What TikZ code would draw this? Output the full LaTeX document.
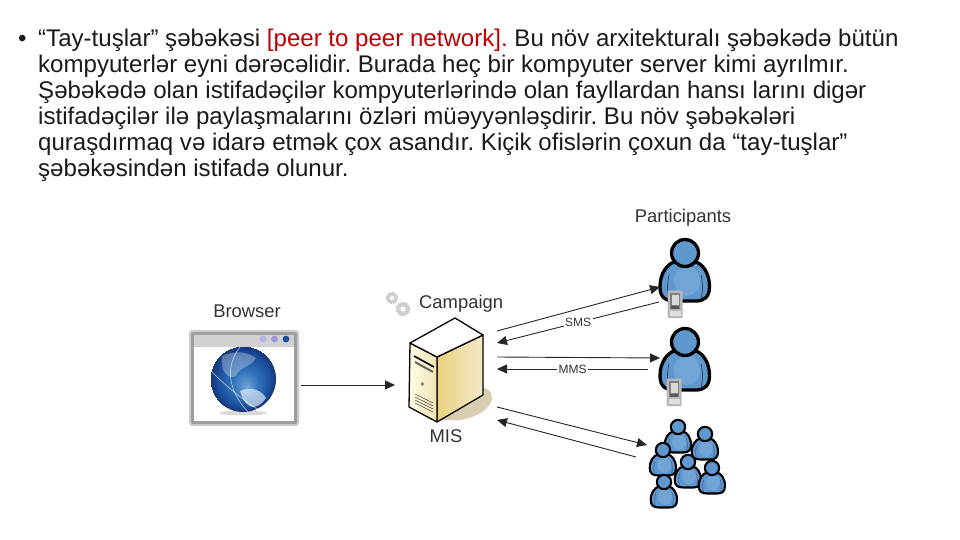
\documentclass[tikz,border=0pt]{standalone}
\usepackage{fontspec}
\setmainfont{Liberation Sans}
\usetikzlibrary{arrows.meta,shapes.geometric}
\definecolor{txt}{HTML}{1A1A1A}
\definecolor{redtxt}{HTML}{C00000}
\definecolor{lbl}{HTML}{333333}
\definecolor{bluep}{HTML}{5F97CF}
\definecolor{bluepl}{HTML}{8DB6DF}
\definecolor{shadowb}{HTML}{D8CEB2}
\definecolor{gl1}{HTML}{6FA6D8}
\definecolor{gl2}{HTML}{2F72B8}
\definecolor{gl3}{HTML}{1A4F9C}
\definecolor{gl4}{HTML}{12357A}
\pgfdeclareradialshading{globeshade}{\pgfpoint{3pt}{-6pt}}{%
  color(0pt)=(gl1);color(10pt)=(gl2);color(20pt)=(gl3);color(25pt)=(gl4)}
\tikzset{
  line/.style={txt,font=\fontsize{24.07}{26}\selectfont\frenchspacing,anchor=base west,inner sep=0pt},
  lab/.style={lbl,font=\fontsize{18.4}{20}\selectfont,inner sep=0pt},
  small/.style={lbl,font=\fontsize{12}{14}\selectfont,inner sep=1.5pt,fill=white},
  conn/.style={black!85,line width=0.9pt,-{Triangle[length=10pt,width=9pt]}},
  gear/.style={draw=black!22,dash pattern=on 1.6pt off 1.2pt,line width=1.6pt,fill=black!18}
}
% person drawn at head centre #1,#2 with scale #3
\newcommand{\drawperson}[3]{%
  \begin{scope}[shift={(#1,#2)},scale=#3]
    \draw[fill=bluep,draw=black,line width=(#3*2.5+.8)*1pt,line join=round]
      (-9,8) .. controls (-18,11) and (-25,20) .. (-25,34)
      .. controls (-25,44) and (-20,48) .. (-10,48)
      -- (11,48)
      .. controls (19,48) and (24.5,44) .. (24.5,34)
      .. controls (24.5,20) and (18,11) .. (9,8) -- cycle;
    \fill[bluepl,opacity=.45] (2,28) ellipse[x radius=13,y radius=15];
    \draw[black!55!bluep,line width=#3*.7pt] (-16,22) .. controls (-18,30) and (-18,38) .. (-16,46);
    \draw[black!55!bluep,line width=#3*.7pt] (16,22) .. controls (18,30) and (18,38) .. (16,46);
    \draw[fill=bluep,draw=black,line width=(#3*2.5+.8)*1pt] (0,0) circle[radius=13.5];
  \end{scope}%
}
\newcommand{\drawphone}[2]{%
  \begin{scope}[shift={(#1,#2)}]
    \fill[black!28,rounded corners=1pt] (-7.5,-13.5) rectangle (7.5,14);
    \fill[black!50] (-5,-11) rectangle (5,5);
    \fill[black!15] (-3.5,-9) rectangle (3.5,1);
    \fill[black!65] (-4,2) rectangle (4,5);
    \fill[black!12] (-5.5,7) rectangle (5.5,12);
  \end{scope}%
}
\begin{document}
\begin{tikzpicture}[x=1pt,y=-1pt]
\useasboundingbox (0,0) rectangle (960,540);
\fill[white] (0,0) rectangle (960,540);
% text
\node[line] (b) at (18,46.5) {•};
\node[line] (l1) at (38,46.5) {“Tay-tuşlar” şəbəkəsi \textcolor{redtxt}{[peer to peer network].} Bu növ arxitekturalı şəbəkədə bütün};
\node[line] (l2) at (38,72.5) {kompyuterlər eyni dərəcəlidir. Burada heç bir kompyuter server kimi ayrılmır.};
\node[line] (l3) at (38,98.5) {Şəbəkədə olan istifadəçilər kompyuterlərində olan fayllardan hansı larını digər};
\node[line] (l4) at (38,124.5) {istifadəçilər ilə paylaşmalarını özləri müəyyənləşdirir. Bu növ şəbəkələri};
\node[line] (l5) at (38,150.5) {quraşdırmaq və idarə etmək çox asandır. Kiçik ofislərin çoxun da “tay-tuşlar”};
\node[line] (l6) at (38,176.5) {şəbəkəsindən istifadə olunur.};
% labels
\node[lab] (browser) at (247,311) {Browser};
\node[lab,anchor=west] (campaign) at (419,304) {Campaign};
\node[lab] (mis) at (446,436) {MIS};
\node[lab] (part) at (683,217.5) {Participants};
% browser window
\fill[black!20,rounded corners=3pt] (189,330) rectangle (299,426);
\fill[black!38,rounded corners=2pt] (191,332) rectangle (297,424);
\fill[white] (194,335) rectangle (294,421);
\fill[black!18] (194,335) rectangle (294,347);
\fill[black!30!blue!30] (263,339) circle[radius=3.4];
\fill[black!30!blue!40] (274.5,339) circle[radius=3.4];
\fill[gl3] (286,339) circle[radius=3.4];
\fill[black!15] (243,413) ellipse[x radius=24,y radius=2.5];
\begin{scope}
  \clip (243,379) circle[radius=33];
  \shade[shading=globeshade] (210,346) rectangle (276,412);
  \fill[white,opacity=.3] (222,356) .. controls (235,350) and (248,352) .. (256,358)
    .. controls (250,368) and (240,366) .. (236,376) .. controls (228,380) and (220,372) .. (222,356);
  \fill[white,opacity=.6] (240,391) .. controls (250,386) and (262,390) .. (266,398)
    .. controls (258,410) and (246,412) .. (240,391);
  \draw[white,opacity=.6,line width=.7pt] (212,372) .. controls (230,390) and (250,405) .. (262,412);
  \draw[white,opacity=.6,line width=.7pt] (240,347) .. controls (222,370) and (232,395) .. (248,412);
\end{scope}
% gears
\draw[gear] (392,298) circle[radius=5.5];
\fill[white] (392,298) circle[radius=2];
\draw[gear] (403,309) circle[radius=6.5];
\fill[white] (403,309) circle[radius=2.5];
% server
\fill[shadowb] (437,420) -- (483,395) -- (483,388) .. controls (490,388) and (494,395) .. (491,402) .. controls (488,410) and (475,418) .. (460,420) -- cycle;
\shade[left color=yellow!40!brown!60,right color=yellow!30!brown!25!white,draw=black,line width=1.3pt,line join=round]
  (437,357) -- (483,335) -- (483,395) -- (437,422) -- cycle;
\shade[left color=yellow!10!white,right color=yellow!35!brown!35!white,draw=black,line width=1.3pt,line join=round]
  (410,343) -- (437,357) -- (437,422) -- (409,407) -- cycle;
\fill[white,draw=black,line width=1.3pt,line join=round] (410,343) -- (455,318) -- (483,335) -- (437,357) -- cycle;
\draw[black,line width=1.6pt] (414,356) -- (434,367);
\draw[black!60,line width=2pt] (415,362) -- (433,372);
\draw[black!50,fill=green!40!black!60,line width=.5pt] (422.5,384) circle[radius=1.6];
\foreach \d in {0,3,6,9} \draw[black!70,line width=.6pt] (415,394+\d) -- (433,403+\d);
% people
\drawperson{685}{253}{1}
\drawphone{675}{304}
\drawperson{685}{342}{1}
\drawphone{674}{392}
\drawperson{678}{427}{.53}
\drawperson{705}{434}{.53}
\drawperson{663}{450}{.53}
\drawperson{688}{462}{.53}
\drawperson{712}{468}{.53}
\drawperson{664}{482}{.53}
% connector ends
\coordinate (a0) at (301,385);
\coordinate (a1) at (395,385);
\coordinate (s1) at (497,331);
\coordinate (s2) at (660,287);
\coordinate (s3) at (659,302);
\coordinate (s4) at (497,343);
\coordinate (m1) at (497,357);
\coordinate (m2) at (660,358);
\coordinate (m3) at (648,369);
\coordinate (m4) at (497,369);
\coordinate (g1) at (497,407);
\coordinate (g2) at (647,445);
\coordinate (g3) at (636,457);
\coordinate (g4) at (497,420);
% connectors
\draw[conn] (a0) -- (a1);
\draw[conn] (s1) -- (s2);
\draw[conn] (s3) -- node[small,pos=.5] (sms) {SMS} (s4);
\draw[conn] (m1) -- (m2);
\draw[conn] (m3) -- node[small,pos=.5] (mms) {MMS} (m4);
\draw[conn] (g1) -- (g2);
\draw[conn] (g3) -- (g4);
\end{tikzpicture}
\end{document}
